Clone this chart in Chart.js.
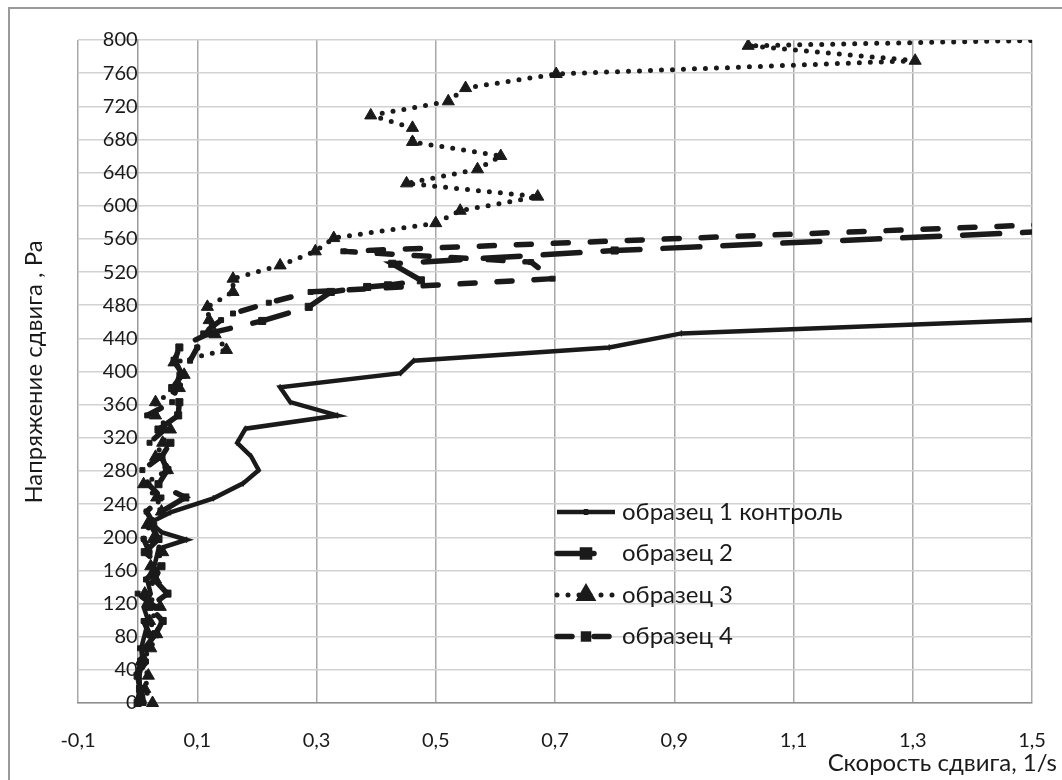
<!DOCTYPE html>
<html>
<head>
<meta charset="utf-8">
<script src="https://cdn.jsdelivr.net/npm/chart.js@4.4.1/dist/chart.umd.min.js"></script>
<style>
  html, body { margin: 0; padding: 0; background: #fff; }
  #wrap { width: 1062px; height: 780px; }
</style>
</head>
<body>
<div id="wrap"><canvas id="mainChart" width="1062" height="780"></canvas></div>
<script>
// подписи
const seriesLabels = ['образец 1 контроль', 'образец 2', 'образец 3', 'образец 4'];
const xTitle = 'Скорость сдвига, 1/s';
const yTitle = 'Напряжение сдвига , Ра';
const xTicks = [-0.1, 0.1, 0.3, 0.5, 0.7, 0.9, 1.1, 1.3, 1.5];
const yTicks = [0, 40, 80, 120, 160, 200, 240, 280, 320, 360, 400, 440, 480, 520, 560, 600, 640, 680, 720, 760, 800];

// образец 1 контроль
const s1Stress = [0, 17, 33, 50, 66, 83, 99, 116, 132, 149, 165, 186, 197, 206, 218, 230, 247, 265, 281, 298, 314, 331, 347, 363, 381, 398, 413, 429, 446, 462];
const s1Rate = [0.002, 0.004, 0.003, 0.008, 0.006, 0.012, 0.018, 0.01, 0.022, 0.016, 0.028, 0.035, 0.082, 0.04, 0.022, 0.055, 0.127, 0.177, 0.203, 0.19, 0.167, 0.181, 0.335, 0.256, 0.239, 0.441, 0.463, 0.791, 0.912, 1.5];

// образец 2
const s2Stress = [0, 17, 33, 50, 66, 83, 99, 116, 132, 149, 165, 182, 198, 215, 231, 248, 264, 281, 297, 314, 330, 347, 363, 380, 396, 413, 429, 446, 461, 478, 496, 502, 504, 510, 530, 546, 572];
const s2Rate = [0.0, 0.004, 0.0, 0.006, 0.012, 0.03, 0.042, 0.02, 0.05, 0.028, 0.04, 0.012, 0.035, 0.022, 0.04, 0.08, 0.035, 0.05, 0.04, 0.055, 0.035, 0.068, 0.07, 0.058, 0.075, 0.062, 0.07, 0.12, 0.209, 0.287, 0.324, 0.385, 0.42, 0.475, 0.427, 0.8, 1.62];

// образец 3
const s3Stress = [0, 17, 33, 50, 66, 83, 99, 116, 132, 149, 165, 182, 198, 215, 231, 248, 264, 281, 297, 314, 330, 347, 363, 380, 396, 411, 426, 445, 462, 478, 496, 512, 528, 545, 561, 579, 594, 611, 627, 644, 660, 677, 694, 709, 726, 742, 759, 775, 793, 809];
const s3Rate = [0.025, 0.012, 0.018, 0.006, 0.022, 0.032, 0.02, 0.038, 0.012, 0.03, 0.022, 0.042, 0.026, 0.016, 0.04, 0.032, 0.01, 0.05, 0.03, 0.042, 0.055, 0.03, 0.03, 0.07, 0.078, 0.061, 0.149, 0.13, 0.12, 0.117, 0.16, 0.16, 0.239, 0.298, 0.329, 0.5, 0.541, 0.671, 0.451, 0.57, 0.609, 0.461, 0.461, 0.391, 0.521, 0.55, 0.702, 1.304, 1.024, 2.2];

// образец 4
const s4Stress = [0, 17, 33, 50, 66, 83, 99, 116, 132, 149, 165, 182, 198, 215, 231, 248, 264, 281, 297, 314, 330, 347, 363, 380, 396, 413, 429, 446, 462, 470, 483, 496, 512, 532, 545, 580];
const s4Rate = [0.01, 0.006, 0.0, 0.014, 0.004, 0.02, 0.01, 0.03, 0.0, 0.014, 0.038, 0.02, 0.01, 0.028, 0.015, 0.04, 0.018, 0.008, 0.038, 0.02, 0.045, 0.016, 0.058, 0.065, 0.07, 0.088, 0.1, 0.11, 0.14, 0.16, 0.22, 0.29, 0.696, 0.66, 0.345, 1.62];

const FONT = 'Lato, "Open Sans", sans-serif';
const INK = '#1a1a1a';

const toPoints = (rate, stress) => rate.map((x, i) => ({ x: x, y: stress[i] }));
const fmtComma = v => Number(v).toFixed(1).replace('.', ',');

// рамка, подписи осей и легенда рисуются поверх
const decor = {
    id: 'decor',
    afterDraw(chart) {
        const ctx = chart.ctx;
        ctx.save();
        ctx.strokeStyle = '#9a9a9a';
        ctx.lineWidth = 2;
        ctx.beginPath();
        ctx.moveTo(9, 780);
        ctx.lineTo(9, 8);
        ctx.lineTo(1062, 8);
        ctx.stroke();

        ctx.fillStyle = '#1a1a1a';
        ctx.font = '24px ' + FONT;
        ctx.textBaseline = 'middle';
        ctx.textAlign = 'right';
        ctx.fillText(xTitle, 1057, 763);

        ctx.save();
        ctx.translate(34, 372);
        ctx.rotate(-Math.PI / 2);
        ctx.textAlign = 'center';
        ctx.fillText(yTitle, 0, 0);
        ctx.restore();

        ctx.font = '24px ' + FONT;
        ctx.textAlign = 'left';
        chart.data.datasets.forEach((ds, i) => {
            const y = 512 + i * 41.5;
            ctx.strokeStyle = ds.borderColor;
            ctx.lineWidth = ds.borderWidth;
            ctx.lineCap = ds.borderCapStyle || 'butt';
            ctx.setLineDash(ds.borderDash || []);
            ctx.beginPath();
            ctx.moveTo(557, y);
            ctx.lineTo(615, y);
            ctx.stroke();
            ctx.setLineDash([]);
            ctx.fillStyle = ds.pointBackgroundColor;
            ctx.strokeStyle = ds.pointBorderColor;
            Chart.helpers.drawPoint(ctx, {
                pointStyle: ds.pointStyle,
                rotation: ds.pointRotation || 0,
                radius: ds.pointRadius,
                borderWidth: ds.pointBorderWidth
            }, 586, y);
            ctx.fillStyle = '#1a1a1a';
            ctx.fillText(ds.label, 622, y);
        });
        ctx.restore();
    }
};

document.addEventListener('DOMContentLoaded', () => {
    const ctx = document.getElementById('mainChart');
    if (!ctx) return;

    const common = {
        borderColor: INK,
        pointBackgroundColor: INK,
        pointBorderColor: INK,
        pointBorderWidth: 1,
        tension: 0,
        fill: false,
        showLine: true,
        clip: { left: 8, right: 0, top: 0, bottom: 8 }
    };

    new Chart(ctx, {
        type: 'scatter',
        data: {
            datasets: [
                Object.assign({}, common, {
                    label: seriesLabels[0],
                    data: toPoints(s1Rate, s1Stress),
                    borderWidth: 4.5,
                    pointStyle: 'line',
                    pointRotation: 90,
                    pointRadius: 3,
                    pointBorderWidth: 1.5
                }),
                Object.assign({}, common, {
                    label: seriesLabels[1],
                    data: toPoints(s2Rate, s2Stress),
                    borderWidth: 5.5,
                    borderDash: [37, 23],
                    borderCapStyle: 'round',
                    pointStyle: 'rect',
                    pointRadius: 5
                }),
                Object.assign({}, common, {
                    label: seriesLabels[2],
                    data: toPoints(s3Rate, s3Stress),
                    borderWidth: 5,
                    borderDash: [0, 11],
                    borderCapStyle: 'round',
                    pointStyle: 'triangle',
                    pointRadius: 7
                }),
                Object.assign({}, common, {
                    label: seriesLabels[3],
                    data: toPoints(s4Rate, s4Stress),
                    borderWidth: 5.5,
                    borderDash: [15, 22],
                    borderCapStyle: 'round',
                    pointStyle: 'rect',
                    pointRadius: 3.5
                })
            ]
        },
        options: {
            responsive: false,
            animation: false,
            layout: { padding: { left: 78, right: 30, top: 40, bottom: 0 } },
            plugins: {
                legend: { display: false },
                tooltip: { enabled: false }
            },
            scales: {
                x: {
                    type: 'linear',
                    position: 'bottom',
                    min: -0.1,
                    max: 1.5,
                    afterBuildTicks: s => { s.ticks = xTicks.map(v => ({ value: v })); },
                    afterFit: s => { s.height = 77; },
                    // невидимые засечки дают отступ подписей без сдвига правого края
                    grid: { color: '#a8a8a8', lineWidth: 1.5, drawTicks: true, tickLength: 26, tickColor: 'rgba(0,0,0,0)' },
                    border: { color: '#8e8e8e', width: 1.5 },
                    ticks: {
                        padding: 0,
                        color: '#1a1a1a',
                        font: { family: FONT, size: 20 },
                        callback: v => fmtComma(v)
                    }
                },
                y: {
                    type: 'linear',
                    position: { x: 0 },
                    min: 0,
                    max: 800,
                    afterBuildTicks: s => { s.ticks = yTicks.map(v => ({ value: v })); },
                    grid: { color: '#d2d2d2', lineWidth: 1.5, drawTicks: false },
                    border: { color: '#9a9a9a', width: 1.5 },
                    ticks: {
                        padding: 20,
                        color: '#1a1a1a',
                        font: { family: FONT, size: 20 },
                        callback: v => String(v)
                    }
                }
            }
        },
        plugins: [decor]
    });
});
</script>
</body>
</html>
